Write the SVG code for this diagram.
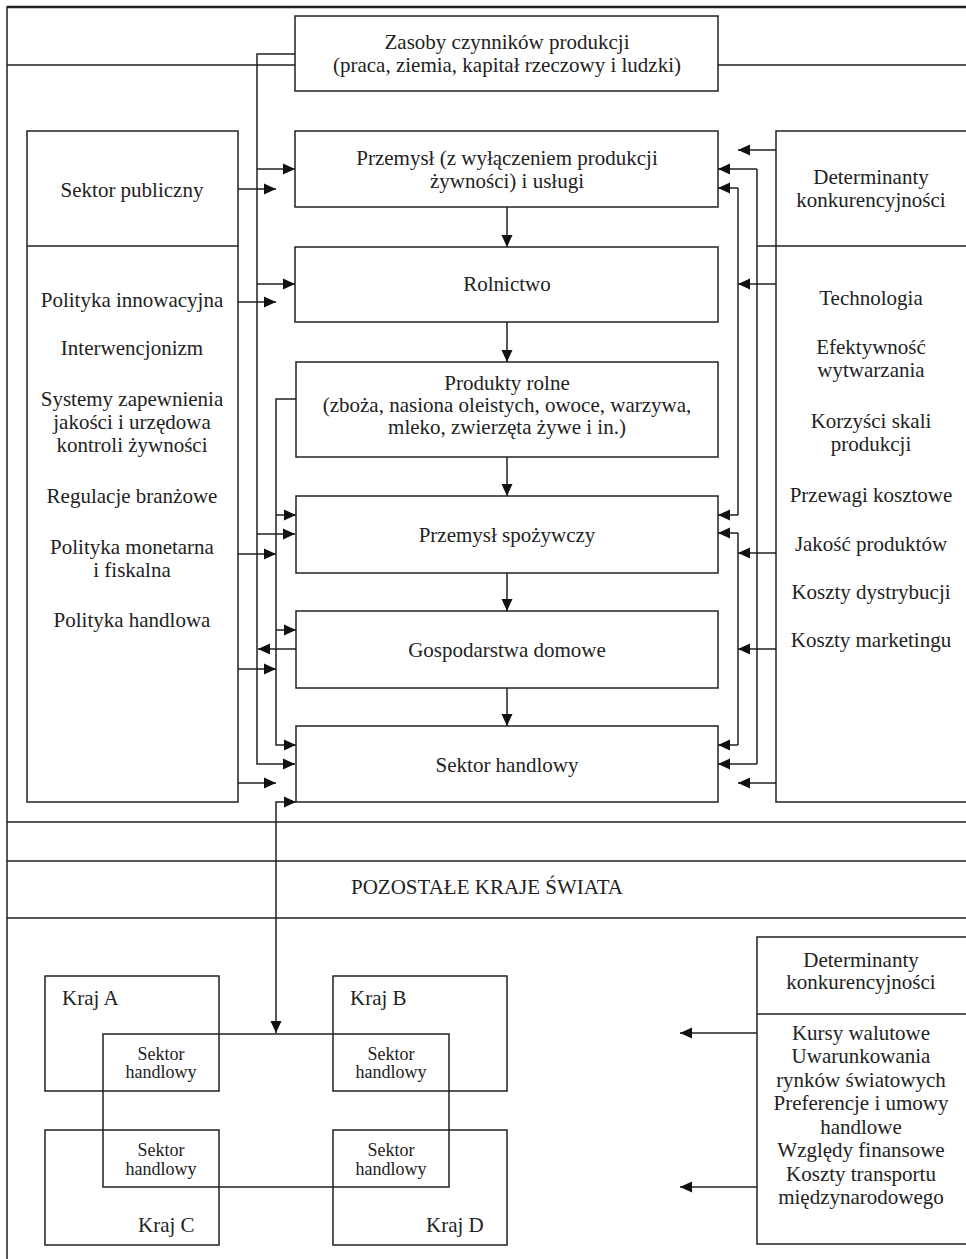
<svg xmlns="http://www.w3.org/2000/svg" width="966" height="1259" viewBox="0 0 966 1259">
<style>
.box{fill:#fff;stroke:#222;stroke-width:1.5}
.ln{fill:none;stroke:#222;stroke-width:1.5}
.ar{fill:none;stroke:#222;stroke-width:1.5;marker-end:url(#ah)}
.t{font-family:"Liberation Serif","Times New Roman",serif;font-size:21px;fill:#222;text-anchor:middle}
.s{font-size:18px}
.l{text-anchor:start}
</style>
<defs>
<marker id="ah" markerUnits="userSpaceOnUse" markerWidth="12" markerHeight="12" viewBox="0 0 12 12" refX="12" refY="6" orient="auto-start-reverse">
<path d="M0,0.5 L12,6 L0,11.5 z" fill="#111"/>
</marker>
</defs>
<rect width="966" height="1259" fill="#fff"/>

<g id="frame">
<path class="ln" d="M7,1259 V7 H966" style="stroke-width:1.5"/>
<path class="ln" d="M7,7 H966" style="stroke-width:2.5"/>
<path class="ln" d="M7,65 H295 M718,65 H966"/>
<path class="ln" d="M7,822 H966 M7,861 H966 M7,918 H966"/>
</g>

<g id="connectors">
<!-- left trunk from Zasoby -->
<path class="ar" d="M295,54 H257 V764 H295"/>
<path class="ar" d="M257,169 H295"/>
<path class="ar" d="M257,284 H295"/>
<path class="ar" d="M257,534 H295"/>
<path class="ar" d="M296,649 H258"/>
<!-- trunk from Produkty rolne -->
<path class="ar" d="M296,399 H276 V745 H296"/>
<path class="ar" d="M276,515 H296"/>
<path class="ar" d="M276,630 H296"/>
<!-- from left column -->
<path class="ar" d="M238,189 H276"/>
<path class="ar" d="M238,302 H276"/>
<path class="ar" d="M238,554 H276"/>
<path class="ar" d="M238,669 H276"/>
<path class="ar" d="M238,783 H276"/>
<!-- Sektor handlowy to world -->
<path class="ar" style="marker-start:url(#ah)" d="M296,802 H276 V1033"/>
<!-- center chain -->
<path class="ar" d="M507,207 V247"/>
<path class="ar" d="M507,322 V362"/>
<path class="ar" d="M507,457 V496"/>
<path class="ar" d="M507,573 V611"/>
<path class="ar" d="M507,688 V726"/>
<!-- right trunks -->
<path class="ln" d="M757,169 V764"/>
<path class="ar" d="M757,169 H718"/>
<path class="ar" d="M757,764 H718"/>
<path class="ln" d="M738,188 V515"/>
<path class="ar" d="M738,188 H718"/>
<path class="ar" d="M738,515 H718"/>
<path class="ln" d="M738,533 V745"/>
<path class="ar" d="M738,533 H718"/>
<path class="ar" d="M738,745 H718"/>
<!-- from right column -->
<path class="ar" d="M776,150 H738"/>
<path class="ar" d="M776,284 H738"/>
<path class="ar" d="M776,553 H738"/>
<path class="ar" d="M776,649 H738"/>
<path class="ar" d="M776,783 H738"/>
<!-- bottom right -->
<path class="ar" d="M757,1033 H680"/>
<path class="ar" d="M757,1187 H680"/>
</g>

<g id="zasoby">
<rect class="box" x="295" y="16" width="423" height="75"/>
<text class="t" x="507" y="49">Zasoby czynników produkcji</text>
<text class="t" x="507" y="72">(praca, ziemia, kapitał rzeczowy i ludzki)</text>
</g>

<g id="sektor-publiczny">
<rect class="box" x="27" y="131" width="211" height="671"/>
<path class="ln" d="M27,246 H238"/>
<text class="t" x="132" y="197">Sektor publiczny</text>
<text class="t" x="132" y="307">Polityka innowacyjna</text>
<text class="t" x="132" y="355">Interwencjonizm</text>
<text class="t" x="132" y="406">Systemy zapewnienia</text>
<text class="t" x="132" y="429">jakości i urzędowa</text>
<text class="t" x="132" y="452">kontroli żywności</text>
<text class="t" x="132" y="503">Regulacje branżowe</text>
<text class="t" x="132" y="554">Polityka monetarna</text>
<text class="t" x="132" y="577">i fiskalna</text>
<text class="t" x="132" y="627">Polityka handlowa</text>
</g>

<g id="determinanty">
<path class="box" d="M966,131 H776 V802 H966"/>
<path class="ln" d="M757,246 H966"/>
<text class="t" x="871" y="184">Determinanty</text>
<text class="t" x="871" y="207">konkurencyjności</text>
<text class="t" x="871" y="305">Technologia</text>
<text class="t" x="871" y="354">Efektywność</text>
<text class="t" x="871" y="377">wytwarzania</text>
<text class="t" x="871" y="428">Korzyści skali</text>
<text class="t" x="871" y="451">produkcji</text>
<text class="t" x="871" y="502">Przewagi kosztowe</text>
<text class="t" x="871" y="551">Jakość produktów</text>
<text class="t" x="871" y="599">Koszty dystrybucji</text>
<text class="t" x="871" y="647">Koszty marketingu</text>
</g>

<g id="przemysl">
<rect class="box" x="295" y="131" width="423" height="76"/>
<text class="t" x="507" y="165">Przemysł (z wyłączeniem produkcji</text>
<text class="t" x="507" y="188">żywności) i usługi</text>
</g>

<g id="rolnictwo">
<rect class="box" x="295" y="247" width="423" height="75"/>
<text class="t" x="507" y="291">Rolnictwo</text>
</g>

<g id="produkty-rolne">
<rect class="box" x="296" y="362" width="422" height="95"/>
<text class="t" x="507" y="390">Produkty rolne</text>
<text class="t" x="507" y="412">(zboża, nasiona oleistych, owoce, warzywa,</text>
<text class="t" x="507" y="434">mleko, zwierzęta żywe i in.)</text>
</g>

<g id="przemysl-spozywczy">
<rect class="box" x="296" y="496" width="422" height="77"/>
<text class="t" x="507" y="542">Przemysł spożywczy</text>
</g>

<g id="gospodarstwa">
<rect class="box" x="296" y="611" width="422" height="77"/>
<text class="t" x="507" y="657">Gospodarstwa domowe</text>
</g>

<g id="sektor-handlowy">
<rect class="box" x="296" y="726" width="422" height="76"/>
<text class="t" x="507" y="772">Sektor handlowy</text>
</g>

<g id="pozostale">
<text class="t" x="487" y="894">POZOSTAŁE KRAJE ŚWIATA</text>
</g>

<g id="kraj-a">
<rect class="box" style="fill:none" x="45" y="976" width="174" height="115"/>
<text class="t l" x="62" y="1005">Kraj A</text>
</g>
<g id="kraj-b">
<rect class="box" style="fill:none" x="333" y="976" width="174" height="115"/>
<text class="t l" x="350" y="1005">Kraj B</text>
</g>
<g id="kraj-c">
<rect class="box" style="fill:none" x="45" y="1130" width="174" height="115"/>
<text class="t l" x="138" y="1232">Kraj C</text>
</g>
<g id="kraj-d">
<rect class="box" style="fill:none" x="333" y="1130" width="174" height="115"/>
<text class="t l" x="426" y="1232">Kraj D</text>
</g>
<g id="handel-swiatowy">
<rect class="box" style="fill:none" x="103" y="1034" width="346" height="153"/>
<text class="t s" x="161" y="1060">Sektor</text>
<text class="t s" x="161" y="1078">handlowy</text>
<text class="t s" x="391" y="1060">Sektor</text>
<text class="t s" x="391" y="1078">handlowy</text>
<text class="t s" x="161" y="1156">Sektor</text>
<text class="t s" x="161" y="1175">handlowy</text>
<text class="t s" x="391" y="1156">Sektor</text>
<text class="t s" x="391" y="1175">handlowy</text>
</g>

<g id="determinanty-swiat">
<path class="box" d="M966,937 H757 V1244 H966"/>
<path class="ln" d="M757,1014 H966"/>
<text class="t" x="861" y="967">Determinanty</text>
<text class="t" x="861" y="989">konkurencyjności</text>
<text class="t" x="861" y="1040">Kursy walutowe</text>
<text class="t" x="861" y="1063">Uwarunkowania</text>
<text class="t" x="861" y="1087">rynków światowych</text>
<text class="t" x="861" y="1110">Preferencje i umowy</text>
<text class="t" x="861" y="1134">handlowe</text>
<text class="t" x="861" y="1157">Względy finansowe</text>
<text class="t" x="861" y="1181">Koszty transportu</text>
<text class="t" x="861" y="1204">międzynarodowego</text>
</g>
</svg>
